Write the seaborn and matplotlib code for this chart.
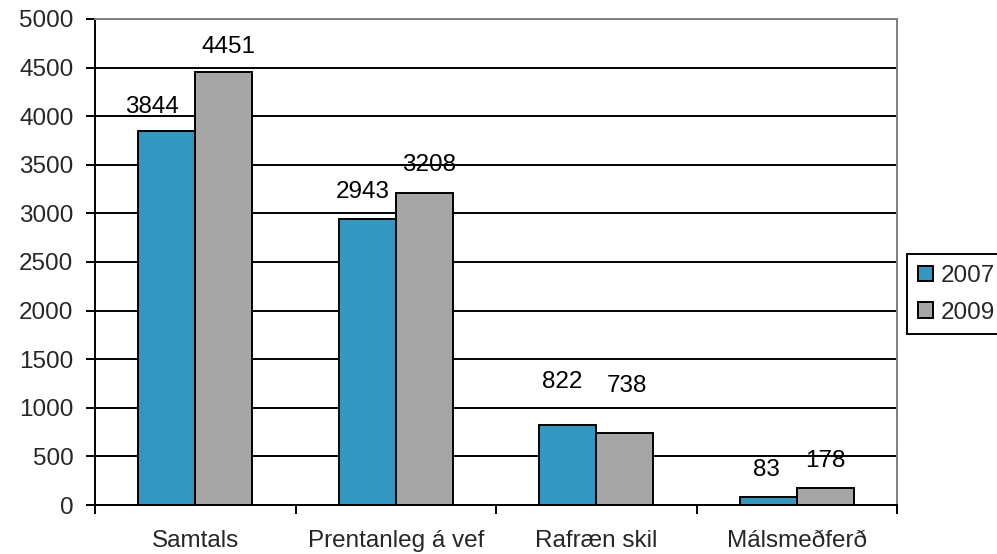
import matplotlib
matplotlib.use("Agg")
import matplotlib.pyplot as plt
from matplotlib.patches import Patch
import pandas as pd
import seaborn as sns

categories = ["Samtals", "Prentanleg á vef", "Rafræn skil", "Málsmeðferð"]
years = ["2007", "2009"]
values_2007 = [3844, 2943, 822, 83]
values_2009 = [4451, 3208, 738, 178]
y_ticks = list(range(0, 5001, 500))

colors = {"2007": "#3497BF", "2009": "#A6A6A6"}
# small pixel nudges (dx, dy above bar top) for the value labels
label_nudge_px = {
    "2007": [(-15, 24), (-4, 27), (-5, 43), (-2, 27)],
    "2009": [(5, 25), (5, 28), (2, 47), (0, 27)],
}

df = pd.DataFrame({
    "flokkur": categories * 2,
    "ar": [years[0]] * len(categories) + [years[1]] * len(categories),
    "fjoldi": values_2007 + values_2009,
})

sns.set_style("white")
plt.rcParams["font.family"] = ["Liberation Sans", "DejaVu Sans"]
FS = 17.5
LW = 1.4

W, H = 997, 554
fig = plt.figure(figsize=(W / 100, H / 100), dpi=100)
ax = fig.add_axes([95 / W, 1 - 505 / H, (897 - 95) / W, (505 - 19) / H])

sns.barplot(data=df, x="flokkur", y="fjoldi", hue="ar", order=categories,
            hue_order=years, palette=colors, saturation=1, width=0.57,
            edgecolor="black", linewidth=LW, ax=ax, legend=False)

ax.set_xlim(-0.5, len(categories) - 0.5)
ax.set_ylim(0, 5000)
ax.set_yticks(y_ticks)
ax.set_yticklabels([str(t) for t in y_ticks], fontsize=FS)
ax.set_xlabel("")
ax.set_ylabel("")

ax.yaxis.grid(True, color="black", linewidth=LW)
ax.xaxis.grid(False)
ax.set_axisbelow(True)

for side in ["left", "bottom"]:
    ax.spines[side].set_color("black")
    ax.spines[side].set_linewidth(LW)
for side in ["top", "right"]:
    ax.spines[side].set_color("#808080")
    ax.spines[side].set_linewidth(LW)

ax.tick_params(axis="y", length=6.5, width=LW, color="black", pad=9,
               direction="out", left=True)
ax.set_xticks(range(len(categories)))
ax.set_xticklabels(categories, fontsize=FS)
ax.tick_params(axis="x", which="major", length=0, pad=18)
ax.set_xticks([i - 0.5 for i in range(len(categories) + 1)], minor=True)
ax.tick_params(axis="x", which="minor", length=6.5, width=LW,
               color="black", direction="out", bottom=True)

# value labels above each bar
for ci, year in enumerate(years):
    container = ax.containers[ci]
    vals = values_2007 if year == "2007" else values_2009
    for bar, v, (dx, dy) in zip(container, vals, label_nudge_px[year]):
        xc = bar.get_x() + bar.get_width() / 2
        ax.annotate(str(v), xy=(xc, v), xytext=(dx * 0.72, dy * 0.72),
                    textcoords="offset points", ha="center", va="center",
                    fontsize=FS, color="black", annotation_clip=False)

handles = [Patch(facecolor=colors[y], edgecolor="black", linewidth=LW,
                 label=y) for y in years]
leg = fig.legend(handles=handles, loc="upper left",
                 bbox_to_anchor=(907 / W, 1 - 254 / H), fontsize=FS,
                 frameon=True, fancybox=False, edgecolor="black",
                 framealpha=1, handlelength=0.6, handleheight=0.6,
                 handletextpad=0.35, labelspacing=0.6, borderpad=0.45,
                 borderaxespad=0)
leg.get_frame().set_linewidth(LW)

fig.savefig("out.png", dpi=100)
